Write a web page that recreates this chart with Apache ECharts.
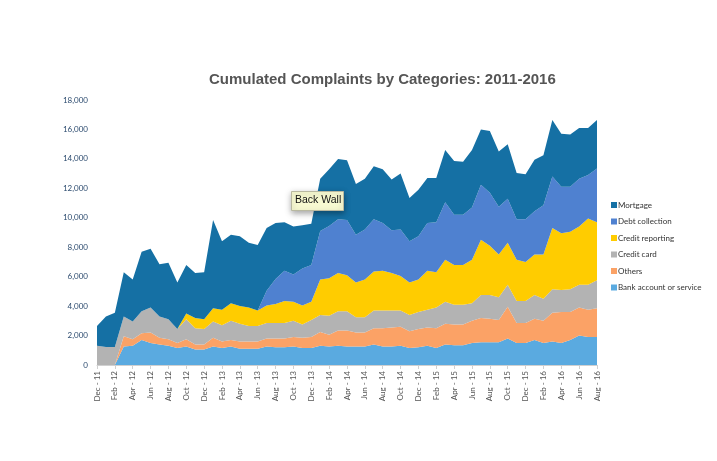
<!DOCTYPE html>
<html>
<head>
<meta charset="utf-8">
<script src="https://cdn.jsdelivr.net/npm/echarts@6/dist/echarts.min.js"></script>
<style>html,body{margin:0;padding:0;background:#fff;}#c{width:717px;height:461px;}</style>
</head>
<body>
<div id="c"></div>
<script>
var categories = ['Dec - 11','Jan - 12','Feb - 12','Mar - 12','Apr - 12','May - 12','Jun - 12','Jul - 12','Aug - 12','Sep - 12','Oct - 12','Nov - 12',
'Dec - 12','Jan - 13','Feb - 13','Mar - 13','Apr - 13','May - 13','Jun - 13','Jul - 13','Aug - 13','Sep - 13','Oct - 13','Nov - 13',
'Dec - 13','Jan - 14','Feb - 14','Mar - 14','Apr - 14','May - 14','Jun - 14','Jul - 14','Aug - 14','Sep - 14','Oct - 14','Nov - 14',
'Dec - 14','Jan - 15','Feb - 15','Mar - 15','Apr - 15','May - 15','Jun - 15','Jul - 15','Aug - 15','Sep - 15','Oct - 15','Nov - 15',
'Dec - 15','Jan - 16','Feb - 16','Mar - 16','Apr - 16','May - 16','Jun - 16','Jul - 16','Aug - 16'];

var bankAccount = [0,0,0,1250,1300,1700,1500,1400,1300,1150,1250,1050,1050,1250,1150,1250,1100,1100,1100,1250,1200,1200,1250,1150,1150,1300,1250,1300,1250,1250,1250,1400,1250,1250,1300,1150,1200,1300,1150,1400,1350,1350,1500,1550,1550,1550,1800,1500,1500,1700,1500,1600,1500,1700,2000,1900,1900];
var others = [0,0,0,700,450,450,700,450,450,350,500,350,350,600,450,450,500,500,500,550,600,600,650,700,750,950,800,1050,1100,950,950,1100,1250,1300,1300,1150,1250,1250,1350,1400,1400,1400,1500,1650,1600,1500,2150,1350,1350,1450,1500,1950,2100,1900,1900,1850,1950];
var creditCard = [1300,1220,1220,1350,1200,1500,1700,1450,1350,950,1350,1100,1050,1100,1100,1300,1200,1050,1050,1050,1050,1050,1100,900,1150,1150,1300,1300,1300,1050,1050,1200,1200,1150,1100,1100,1150,1200,1400,1500,1350,1350,1200,1550,1600,1550,1500,1500,1500,1600,1500,1600,1500,1550,1550,1700,1900];
var creditReporting = [0,0,0,0,0,0,0,0,0,0,400,700,650,900,1050,1200,1200,1250,1050,1200,1300,1500,1300,1300,1250,2400,2550,2600,2450,2350,2550,2650,2700,2550,2350,2200,2200,2650,2400,2850,2700,2700,2950,3750,3350,2900,2850,2800,2650,2750,3000,4150,3850,3900,3950,4500,3950];
var debtCollection = [0,0,0,0,0,0,0,0,0,0,0,0,0,0,0,0,0,0,0,1000,1700,2050,1850,2500,2500,3300,3550,3650,3750,3250,3400,3550,3250,2900,3150,2800,2950,3250,3400,3900,3400,3400,3550,3750,3600,3250,3000,2750,2900,2950,3350,3500,3150,3050,3250,2950,3650];
var mortgage = [1350,2080,2330,3000,2850,4050,4000,3550,3850,3150,3300,3050,3200,6000,4650,4650,4750,4400,4450,4250,3800,3300,3250,2950,2800,3550,3850,4100,4050,3450,3450,3600,3650,3450,3800,2950,3150,3050,3000,3550,3650,3600,3900,3750,4200,3750,3700,3150,3050,3500,3400,3850,3600,3550,3450,3200,3300];

var seriesNames = ['Bank account or service','Others','Credit card','Credit reporting','Debt collection','Mortgage'];
var seriesData = [bankAccount, others, creditCard, creditReporting, debtCollection, mortgage];
var colors = ['#5AAAE0','#FBA266','#B3B3B3','#FFCC00','#4F81D0','#1570A4'];

var chart = echarts.init(document.getElementById('c'));
var series = seriesNames.map(function(n, k){
  return {
    name: n, type: 'line', stack: 'total', data: seriesData[k],
    symbol: 'none', smooth: false,
    lineStyle: {width: 0, color: colors[k]},
    itemStyle: {color: colors[k]},
    areaStyle: {color: colors[k], opacity: 1},
    emphasis: {disabled: true}
  };
});

chart.setOption({
  animation: false,
  backgroundColor: '#fff',
  title: {
    text: 'Cumulated Complaints by Categories: 2011-2016',
    left: 204, top: 67,
    textStyle: {fontFamily: 'Liberation Sans, Arial, sans-serif', fontSize: 15, fontWeight: 'bold', color: '#555555'}
  },
  legend: {
    orient: 'vertical', left: 606, top: 195,
    data: seriesNames.slice().reverse(),
    icon: 'rect', itemWidth: 6, itemHeight: 6, itemGap: 6.5,
    textStyle: {fontFamily: 'Lato, sans-serif', fontSize: 8, lineHeight: 10, color: '#333', padding: [0,0,0,-4]}
  },
  grid: {left: 97, right: 120, top: 100, bottom: 96, containLabel: false},
  xAxis: {
    type: 'category', data: categories, boundaryGap: false,
    axisLine: {show: true, lineStyle: {color: '#D0D0D0', width: 1}},
    axisTick: {show: true, interval: 1, length: 4, lineStyle: {color: '#D0D0D0'}},
    axisLabel: {interval: 1, rotate: 90, fontSize: 8, color: '#555', fontFamily: 'Lato, sans-serif', margin: 6},
    splitLine: {show: false}
  },
  yAxis: {
    type: 'value', min: 0, max: 18000, interval: 2000,
    axisLine: {show: false}, axisTick: {show: false}, splitLine: {show: false},
    axisLabel: {fontSize: 8, color: '#2B4A6E', fontFamily: 'Lato, sans-serif', margin: 9,
      formatter: function(v){ return v.toLocaleString('en-US'); }}
  },
  graphic: [
    {type: 'rect', left: 291, top: 191, shape: {width: 52, height: 19},
     style: {fill: '#F8FAD2', stroke: '#B8B8A0', lineWidth: 1, shadowBlur: 6, shadowColor: 'rgba(0,0,0,0.35)', shadowOffsetY: 2}, z: 100},
    {type: 'text', left: 295, top: 195, style: {text: 'Back Wall', fontSize: 10.5, fill: '#111', fontFamily: 'Liberation Sans, sans-serif'}, z: 101}
  ],
  series: series
});
</script>
</body>
</html>
